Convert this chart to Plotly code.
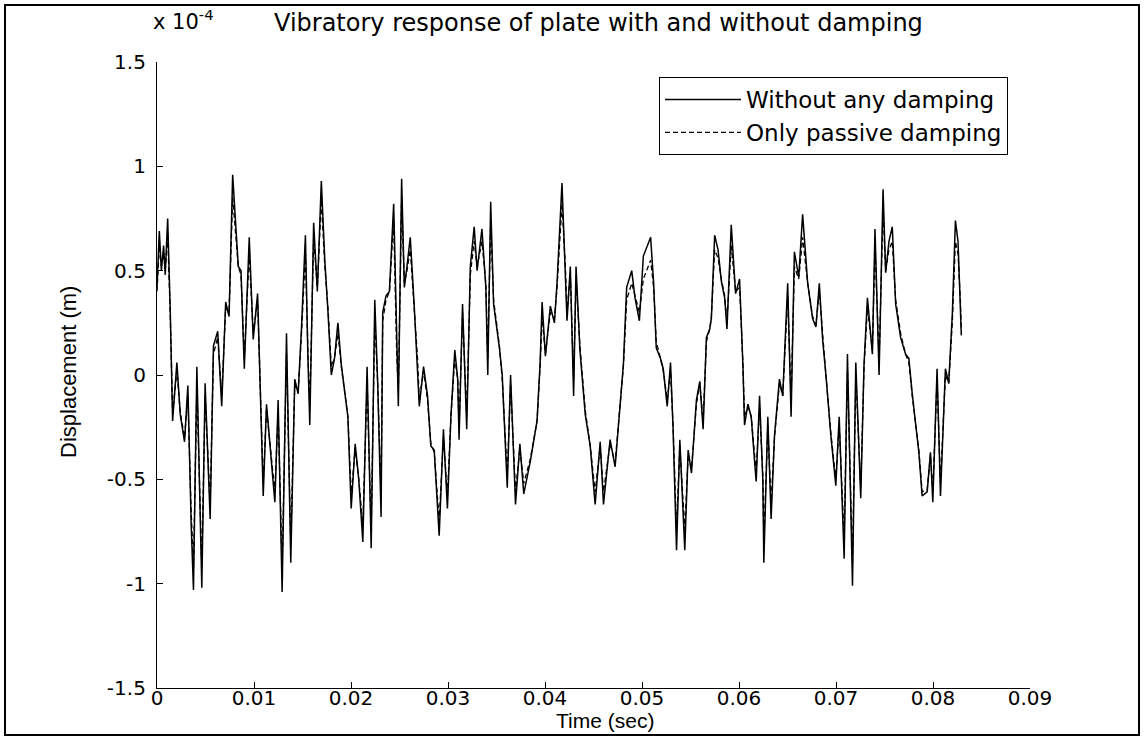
import plotly.graph_objects as go

# Time in milliseconds (converted to seconds for plotting)
time_ms = [0.00, 0.24, 0.45, 0.68, 0.85, 1.10, 1.37, 1.61, 2.05, 2.40, 2.84, 3.18, 3.52, 3.76, 4.11, 4.62, 4.96, 5.48, 5.82, 6.26,
           6.67, 7.08, 7.43, 7.80, 8.38, 8.66, 9.00, 9.51, 9.92, 10.37, 10.78, 10.95, 11.29, 11.70, 12.15, 12.49, 12.90, 13.35, 13.79, 14.20,
           14.55, 14.90, 15.30, 15.55, 15.75, 16.15, 16.53, 16.94, 17.30, 17.63, 17.97, 18.30, 18.65, 19.00, 19.68, 20.02, 20.43, 20.80, 21.22, 21.66,
           22.08, 22.45, 22.76, 23.10, 23.27, 23.61, 23.96, 24.40, 24.70, 24.88, 25.22, 25.50, 25.77, 26.11, 26.52, 26.86, 27.04, 27.48, 27.89, 28.23,
           28.58, 29.09, 29.53, 29.94, 30.30, 30.70, 31.00, 31.14, 31.50, 31.93, 32.30, 32.70, 33.00, 33.50, 33.90, 34.10, 34.40, 34.70, 35.30, 35.59,
           36.11, 36.45, 36.96, 37.41, 37.81, 38.50, 39.18, 39.50, 39.70, 40.04, 40.55, 40.97, 41.24, 41.75, 42.10, 42.27, 42.61, 42.95, 43.20, 43.60,
           44.15, 44.66, 45.17, 45.69, 46.03, 46.71, 47.23, 47.74, 48.08, 48.42, 48.94, 49.28, 49.73, 50.14, 50.89, 51.20, 51.47, 51.90, 52.19, 52.60,
           52.94, 53.20, 53.56, 53.90, 54.41, 54.76, 55.10, 55.61, 55.96, 56.30, 56.64, 56.98, 57.15, 57.49, 57.84, 58.18, 58.52, 58.76, 59.20, 59.65,
           60.06, 60.40, 60.57, 60.92, 61.26, 61.60, 61.77, 62.12, 62.46, 62.56, 62.97, 63.31, 63.66, 64.17, 64.51, 65.02, 65.37, 65.71, 66.16, 66.56,
           67.08, 67.59, 67.93, 68.28, 68.62, 68.96, 69.47, 69.98, 70.33, 70.84, 71.18, 71.70, 72.04, 72.55, 72.89, 73.24, 73.75, 74.02, 74.44, 74.85,
           75.12, 75.46, 75.80, 76.15, 76.66, 77.17, 77.51, 77.86, 78.54, 78.88, 79.40, 79.74, 79.98, 80.42, 80.77, 81.28, 81.62, 82.00, 82.31, 82.58,
           82.82, 82.92]

# Displacement in units of 1e-4 m
without_damping = [0.42, 0.69, 0.50, 0.62, 0.48, 0.75, 0.30, -0.22, 0.06, -0.19, -0.32, -0.05, -0.71, -1.03, 0.04, -1.02, -0.04, -0.69, 0.14, 0.21,
                   -0.15, 0.35, 0.28, 0.96, 0.52, 0.50, 0.03, 0.66, 0.17, 0.39, -0.29, -0.58, -0.14, -0.35, -0.61, -0.12, -1.04, 0.20, -0.90, -0.02,
                   -0.09, 0.23, 0.67, 0.10, -0.24, 0.73, 0.40, 0.93, 0.55, 0.30, 0.00, 0.08, 0.25, 0.05, -0.20, -0.64, -0.33, -0.50, -0.80, 0.04,
                   -0.83, 0.36, -0.05, -0.68, 0.30, 0.38, 0.40, 0.82, 0.10, -0.15, 0.94, 0.42, 0.52, 0.66, 0.33, 0.05, -0.15, 0.04, -0.10, -0.34,
                   -0.36, -0.77, -0.26, -0.64, -0.20, 0.12, -0.02, -0.31, 0.34, -0.26, 0.52, 0.71, 0.50, 0.70, 0.42, 0.00, 0.83, 0.34, 0.13, 0.00,
                   -0.54, 0.00, -0.62, -0.33, -0.57, -0.41, -0.22, 0.06, 0.35, 0.09, 0.33, 0.25, 0.44, 0.92, 0.52, 0.26, 0.52, -0.10, 0.52, 0.12,
                   -0.19, -0.34, -0.62, -0.32, -0.62, -0.31, -0.44, -0.15, 0.05, 0.42, 0.50, 0.37, 0.26, 0.57, 0.66, 0.44, 0.13, 0.08, 0.03, -0.15,
                   0.06, -0.25, -0.84, -0.31, -0.84, -0.36, -0.47, -0.12, -0.03, -0.26, 0.18, 0.22, 0.27, 0.67, 0.60, 0.45, 0.37, 0.22, 0.72, 0.39,
                   0.46, 0.05, -0.24, -0.14, -0.20, -0.41, -0.51, -0.10, -0.51, -0.90, -0.20, -0.69, -0.29, -0.02, -0.10, 0.44, -0.20, 0.59, 0.47, 0.77,
                   0.44, 0.27, 0.23, 0.44, 0.17, 0.00, -0.29, -0.53, -0.20, -0.88, 0.10, -1.01, 0.06, -0.59, 0.05, 0.37, 0.10, 0.70, 0.00, 0.89,
                   0.49, 0.64, 0.71, 0.34, 0.18, 0.10, 0.08, -0.09, -0.37, -0.58, -0.56, -0.37, -0.61, 0.03, -0.58, 0.03, -0.04, 0.30, 0.74, 0.64,
                   0.35, 0.19]

passive_damping = [0.40, 0.62, 0.52, 0.58, 0.50, 0.68, 0.28, -0.18, 0.02, -0.18, -0.30, -0.10, -0.65, -0.92, -0.05, -0.92, -0.10, -0.62, 0.10, 0.18,
                   -0.10, 0.32, 0.30, 0.85, 0.52, 0.48, 0.08, 0.58, 0.20, 0.36, -0.26, -0.52, -0.16, -0.36, -0.56, -0.18, -0.92, 0.10, -0.80, -0.05,
                   -0.08, 0.20, 0.58, 0.12, -0.15, 0.66, 0.42, 0.84, 0.52, 0.32, 0.04, 0.08, 0.20, 0.04, -0.20, -0.58, -0.35, -0.50, -0.72, -0.04,
                   -0.74, 0.28, -0.05, -0.58, 0.26, 0.36, 0.40, 0.74, 0.12, -0.08, 0.84, 0.44, 0.50, 0.60, 0.34, 0.08, -0.12, 0.02, -0.12, -0.33,
                   -0.37, -0.70, -0.30, -0.58, -0.20, 0.08, -0.02, -0.25, 0.30, -0.20, 0.48, 0.64, 0.52, 0.64, 0.44, 0.08, 0.74, 0.36, 0.14, -0.02,
                   -0.48, -0.04, -0.56, -0.35, -0.52, -0.40, -0.22, 0.04, 0.28, 0.10, 0.30, 0.27, 0.42, 0.82, 0.52, 0.30, 0.48, -0.02, 0.46, 0.14,
                   -0.17, -0.34, -0.56, -0.34, -0.56, -0.33, -0.42, -0.16, 0.04, 0.36, 0.44, 0.38, 0.30, 0.46, 0.55, 0.42, 0.16, 0.08, 0.02, -0.12,
                   0.02, -0.24, -0.74, -0.34, -0.74, -0.38, -0.45, -0.14, -0.04, -0.22, 0.16, 0.22, 0.28, 0.60, 0.56, 0.46, 0.38, 0.26, 0.62, 0.40,
                   0.42, 0.06, -0.20, -0.15, -0.20, -0.38, -0.46, -0.16, -0.48, -0.80, -0.24, -0.62, -0.30, -0.04, -0.10, 0.38, -0.12, 0.52, 0.46, 0.66,
                   0.44, 0.28, 0.24, 0.40, 0.18, 0.00, -0.28, -0.50, -0.24, -0.78, 0.02, -0.90, 0.00, -0.54, 0.04, 0.32, 0.12, 0.62, 0.06, 0.80,
                   0.50, 0.60, 0.64, 0.36, 0.20, 0.10, 0.06, -0.10, -0.36, -0.56, -0.55, -0.38, -0.56, -0.02, -0.52, 0.00, -0.04, 0.26, 0.64, 0.58,
                   0.36, 0.22]

x_tick_vals = [0, 0.01, 0.02, 0.03, 0.04, 0.05, 0.06, 0.07, 0.08, 0.09]
x_tick_text = ["0", "0.01", "0.02", "0.03", "0.04", "0.05", "0.06", "0.07", "0.08", "0.09"]
y_tick_vals = [-1.5, -1, -0.5, 0, 0.5, 1, 1.5]
y_tick_text = ["-1.5", "-1", "-0.5", "0", "0.5", "1", "1.5"]

time_s = [t / 1000 for t in time_ms]

fig = go.Figure()
fig.add_trace(go.Scatter(x=time_s, y=without_damping, mode="lines", name="Without any damping",
                         line=dict(color="black", width=1.5)))
fig.add_trace(go.Scatter(x=time_s, y=passive_damping, mode="lines", name="Only passive damping",
                         line=dict(color="black", width=1.3, dash="5px,3px")))

W, H = 1144, 741
L, R, T, B = 157, 114, 62, 53
pw, ph = W - L - R, H - T - B

def px(xp):
    return (xp - L) / pw

def py(yp):
    return (H - B - yp) / ph

tick_font = dict(family="DejaVu Sans, Arial, sans-serif", size=20, color="black")

fig.update_layout(
    width=W, height=H,
    margin=dict(l=L, r=R, t=T, b=B),
    paper_bgcolor="white", plot_bgcolor="white",
    showlegend=True,
    legend=dict(x=px(1008), y=py(77), xanchor="right", yanchor="top",
                bordercolor="black", borderwidth=1, bgcolor="white",
                font=dict(family="DejaVu Sans, Arial, sans-serif", size=23, color="black"),
                tracegroupgap=0, itemwidth=76),
    xaxis=dict(range=[0, 0.09], tickvals=x_tick_vals, ticktext=x_tick_text,
               showgrid=False, zeroline=False, showline=True, linecolor="black", linewidth=1.2,
               ticks="inside", ticklen=6, tickcolor="black", mirror=False, tickfont=tick_font,
               ticklabelstandoff=-8),
    yaxis=dict(range=[-1.5, 1.5], tickvals=y_tick_vals, ticktext=y_tick_text,
               showgrid=False, zeroline=False, showline=True, linecolor="black", linewidth=1.2,
               ticks="inside", ticklen=6, tickcolor="black", mirror=False, tickfont=tick_font,
               ticklabelstandoff=6),
)

# Figure frame
fig.add_shape(type="rect", xref="paper", yref="paper",
              x0=px(5), x1=px(1139), y0=py(735), y1=py(5),
              line=dict(color="black", width=2))

annotations = [
    dict(text="Vibratory response of plate with and without damping", x=px(598), y=py(23),
         font=dict(family="DejaVu Sans, Arial, sans-serif", size=24, color="black")),
    dict(text="x 10<sup>-4</sup>", x=px(183), y=py(20),
         font=dict(family="DejaVu Sans, Arial, sans-serif", size=21, color="black")),
    dict(text="Time (sec)", x=px(605), y=py(720),
         font=dict(family="Liberation Sans, Arial, sans-serif", size=21, color="black")),
    dict(text="Displacement (m)", x=px(68), y=py(372), textangle=-90,
         font=dict(family="Liberation Sans, Arial, sans-serif", size=22, color="black")),
]
for a in annotations:
    fig.add_annotation(xref="paper", yref="paper", showarrow=False, xanchor="center", yanchor="middle", **a)

fig.write_html("out.html", config={"displayModeBar": False},
               post_script="document.body.style.margin='0px';")
